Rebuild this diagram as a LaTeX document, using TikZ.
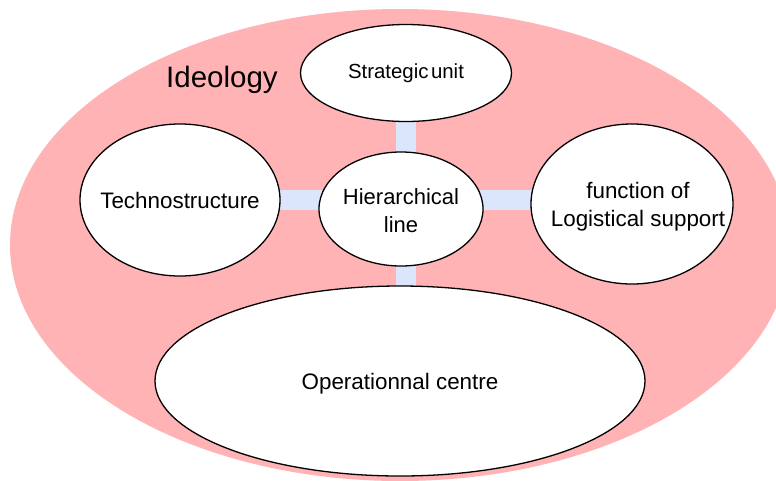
\documentclass[tikz,border=0pt]{standalone}
\usepackage{fontspec}
\setmainfont{Liberation Sans}
\usetikzlibrary{shapes.geometric,backgrounds}
\definecolor{ideopink}{RGB}{255,179,181}
\definecolor{barblue}{RGB}{219,229,252}
\tikzset{
  unit/.style={ellipse, draw=black, line width=1.3pt, fill=white, inner sep=0pt},
  txt/.style={align=center, inner sep=0pt, font=\fontsize{22.4}{28}\selectfont},
  bar/.style={draw=barblue, line width=20pt}
}
\begin{document}
\begin{tikzpicture}[x=1pt,y=-1pt]
\useasboundingbox (0,0) rectangle (776,480);
\node[unit, minimum width=211pt, minimum height=97pt, label={[txt, font=\fontsize{20.4}{24}\selectfont]center:Strategic\kern2.5pt unit}] (strat) at (406,73) {};
\node[unit, minimum width=200pt, minimum height=152pt, label={[txt]center:Technostructure}] (tech) at (180,200) {};
\node[unit, minimum width=164pt, minimum height=114pt, label={[txt, font=\fontsize{22}{28}\selectfont, yshift=-2pt]center:Hierarchical\\line}] (hier) at (401,209) {};
\node[unit, minimum width=202pt, minimum height=160pt, label={[txt, xshift=6pt, yshift=-3pt]center:function of\\Logistical support}] (logi) at (632,204) {};
\node[unit, minimum width=490pt, minimum height=190pt, label={[txt, yshift=-3pt]center:Operationnal centre}] (op) at (400,381) {};
\node[font=\fontsize{29.5}{32}\selectfont, inner sep=0pt] (ideo) at (222,80) {Ideology};
\begin{scope}[on background layer]
\fill[ideopink] (400,245) ellipse [x radius=390, y radius=236];
\draw[bar] (strat.center) -- (strat.center |- op.center);
\draw[bar] (tech.center) -- (tech.center -| logi.center);
\end{scope}
\end{tikzpicture}
\end{document}
